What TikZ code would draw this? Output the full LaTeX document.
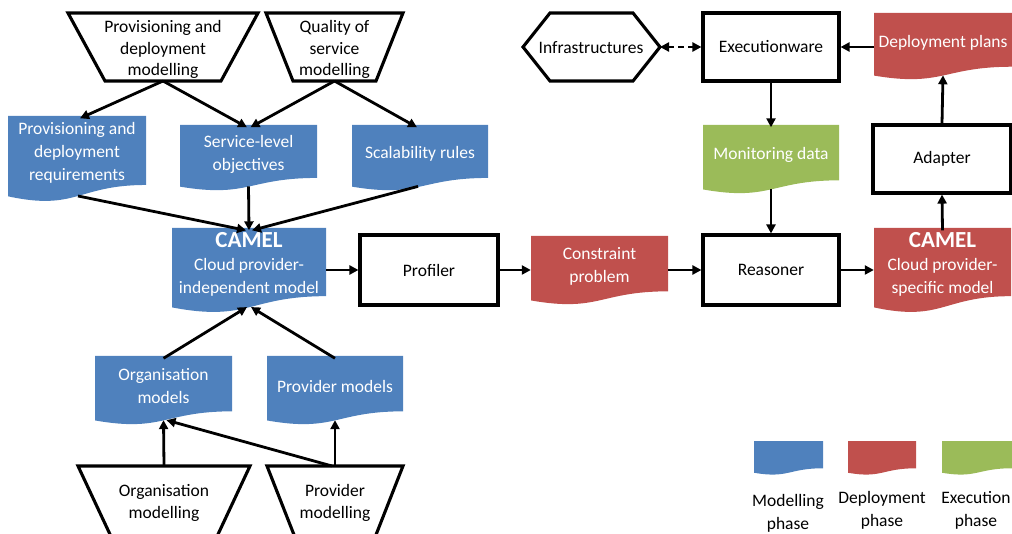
\documentclass[tikz,border=0pt]{standalone}
\usepackage{fontspec}
\setmainfont{Carlito}
\usetikzlibrary{arrows.meta,calc}
\definecolor{cblue}{HTML}{4F81BD}
\definecolor{cred}{HTML}{C0504D}
\definecolor{cgreen}{HTML}{9BBB59}
% document shape: name, x1, x2, ytop, H, colour, text
\newcommand\DocShape[7]{%
  \fill[#6] ({#2},{#4}) -- ({#3},{#4}) -- ({#3},{#4+0.802*#5})
    .. controls ({(#2+#3)/2},{#4+0.802*#5}) and ({(#2+#3)/2},{#4+1.1075*#5}) .. ({#2},{#4+0.934*#5}) -- cycle;
  \node[doctxt, minimum width={#3-#2}, minimum height={0.802*#5}] (#1) at ({(#2+#3)/2},{#4+0.401*#5+2.5}) {#7};
  \coordinate (#1-b) at ({(#2+#3)/2},{#4+0.93*#5});
}
% trapezoid: name, x1, x2, ytop, ybot, inset, text-centre-y, text
\newcommand\TrapShape[8]{%
  \draw[shapeline] ({#2},{#4}) -- ({#3},{#4}) -- ({#3-#6},{#5}) -- ({#2+#6},{#5}) -- cycle;
  \node[lbltxt, font=\fontsize{17.5}{21.5}\selectfont] (#1) at ({(#2+#3)/2},{#7}) {#8};
  \coordinate (#1-t) at ({(#2+#3)/2},{#4});
  \coordinate (#1-b) at ({(#2+#3)/2},{#5});
}
\begin{document}
\begin{tikzpicture}[x=1pt,y=-1pt,
  every node/.style={font=\fontsize{17.5}{21}\selectfont, inner sep=0pt},
  boxnode/.style={draw, line width=3.1pt, fill=white, align=center},
  shapeline/.style={draw, line width=3.1pt, line join=miter},
  doctxt/.style={text=white, align=center, font=\fontsize{17.5}{23}\selectfont},
  lbltxt/.style={align=center, font=\fontsize{17.5}{23}\selectfont},
  arr/.style={-{Triangle[length=9pt,width=9pt]}, line width=2.8pt},
  darr/.style={{Triangle[length=9pt,width=9pt]}-{Triangle[length=9pt,width=9pt]}, line width=2.8pt, dash pattern=on 6pt off 4pt},
]
\useasboundingbox (0,0) rectangle (1012,534);
\clip (0,0) rectangle (1012,534);

% top trapezoids
\TrapShape{pdm}{68}{258}{13}{81}{37}{49.5}{Provisioning and\\deployment\\modelling}
\TrapShape{qos}{266}{403}{13}{81}{27}{49.5}{Quality of\\service\\modelling}

% blue documents
\DocShape{pdr}{8}{146}{116}{86}{cblue}{Provisioning and\\deployment\\requirements}
\DocShape{slo}{180}{317}{125}{66}{cblue}{Service-level\\objectives}
\DocShape{scal}{352}{488}{125}{66}{cblue}{Scalability rules}
\DocShape{camel1}{172}{326}{228}{85}{cblue}{{\fontsize{23}{23}\selectfont\bfseries CAMEL}\\Cloud provider-\\independent model}
\DocShape{orgm}{95}{232}{356}{69}{cblue}{Organisation\\models}
\DocShape{provm}{267}{403}{356}{69}{cblue}{Provider models}

% bottom trapezoids (cut by the edge)
\TrapShape{om}{78}{250}{466}{545}{37}{503}{Organisation\\modelling}
\TrapShape{pm}{267}{403}{466}{545}{31}{503}{Provider\\modelling}

% boxes
\node[boxnode, minimum width=138pt, minimum height=70pt] (prof) at (429,270) {Profiler};
\node[boxnode, minimum width=136pt, minimum height=68pt] (exec) at (771,47) {Executionware};
\node[boxnode, minimum width=136pt, minimum height=70pt] (reas) at (771,270) {Reasoner};
\node[boxnode, minimum width=138pt, minimum height=68pt] (adapt) at (942,159) {Adapter};

% hexagon
\draw[shapeline] (523,47) -- (550,13) -- (633,13) -- (660,47) -- (633,81) -- (550,81) -- cycle;
\node (infra) at (591,48) {Infrastructures};
\coordinate (infra-e) at (660,47);

% red / green documents
\DocShape{dp}{874}{1012}{13}{67}{cred}{Deployment plans}
\DocShape{mon}{703}{839}{125}{69}{cgreen}{Monitoring data}
\DocShape{cp}{531}{668}{236}{69}{cred}{Constraint\\problem}
\DocShape{camel2}{874}{1011}{228}{85}{cred}{{\fontsize{23}{23}\selectfont\bfseries CAMEL}\\Cloud provider-\\specific model}

% legend
\DocShape{leg1}{754}{823}{441}{34}{cblue}{}
\DocShape{leg2}{848}{916}{441}{34}{cred}{}
\DocShape{leg3}{942}{1012}{441}{34}{cgreen}{}
\node[lbltxt] (l1) at (788,513) {Modelling\\phase};
\node[lbltxt] (l2) at (882,510) {Deployment\\phase};
\node[lbltxt] (l3) at (976,510) {Execution\\phase};

% connectors
\draw[arr] (pdm-b) -- ([xshift=3pt]pdr.north);
\draw[arr] (pdm-b) -- ([xshift=-1.5pt]slo.north);
\draw[arr] (qos-b) -- ([xshift=2pt]slo.north);
\draw[arr] (qos-b) -- ([xshift=-3pt]scal.north);
\draw[arr] ([xshift=1pt]pdr-b) -- ([xshift=-3pt]camel1.north);
\draw[arr] (slo-b) -- (camel1.north);
\draw[arr] ([xshift=-2pt]scal-b) -- ([xshift=3pt]camel1.north);
\draw[arr] (orgm.north) -- ([xshift=-2pt]camel1-b);
\draw[arr] (provm.north) -- ([xshift=2pt]camel1-b);
\draw[arr] (om-t) -- (orgm-b);
\draw[arr] (pm-t) -- (provm-b);
\draw[arr] ([xshift=-3pt]pm-t) -- ([xshift=3pt]orgm-b);
\draw[arr] (camel1.east |- prof.west) -- (prof.west);
\draw[arr] (prof.east) -- (prof.east -| cp.west);
\draw[arr] (cp.east |- reas.west) -- (reas.west);
\draw[arr] (reas.east) -- (reas.east -| camel2.west);
\draw[arr] (camel2.north) -- (adapt.south);
\draw[arr] (adapt.north) -- (dp-b);
\draw[arr] (dp.west |- exec.east) -- (exec.east);
\draw[arr] (exec.south) -- (mon.north);
\draw[arr] (mon-b) -- (reas.north);
\draw[darr] (infra-e) -- (exec.west);
\end{tikzpicture}
\end{document}
